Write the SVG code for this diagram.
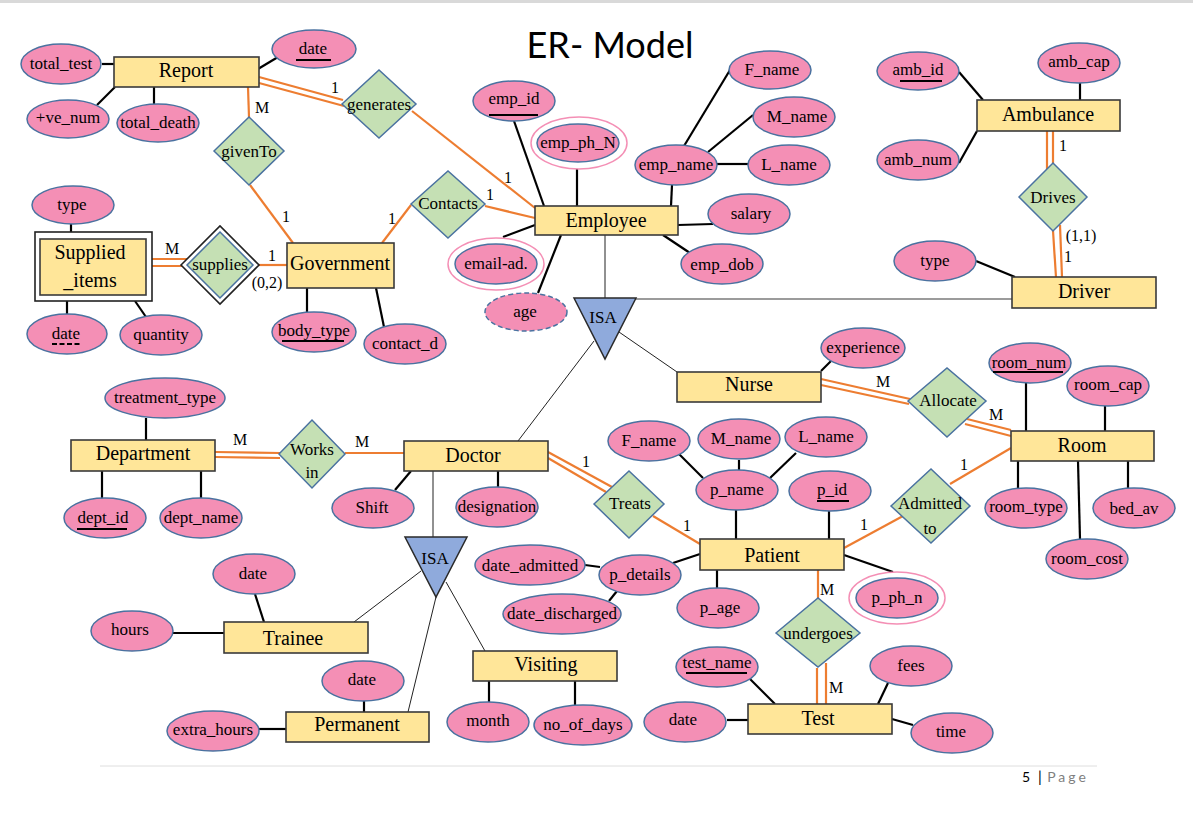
<svg xmlns="http://www.w3.org/2000/svg" width="1193" height="817" viewBox="0 0 1193 817">
<style>
.bg{fill:#fff}
.ent rect{fill:#FFE699;stroke:#3a3a3a;stroke-width:1.6}
.ent rect.outer{fill:#fff;stroke:#222;stroke-width:1.6}
.attr ellipse{fill:#F48FB5;stroke:#4A72A0;stroke-width:1.5}
.attr ellipse.ring{fill:#fff;stroke:#F48FB5;stroke-width:1.5}
.attr ellipse.dash{stroke-dasharray:5 3}
.rel polygon{fill:#C5E0B4;stroke:#4A72A0;stroke-width:1.5}
.rel polygon.outer{fill:#fff;stroke:#222;stroke-width:1.6}
.isa polygon{fill:#8FAADC;stroke:#2a2a2a;stroke-width:1.5}
text{font-family:"Liberation Serif","Times New Roman",serif;fill:#000;text-anchor:middle}
.t{font-size:17px}
.te{font-size:20px}
.c{font-size:16px}
.ul{stroke:#000;stroke-width:2}
.a line{stroke:#000;stroke-width:2.2}
.o line{stroke:#ED7D31;stroke-width:2.2}
.th line{stroke:#222;stroke-width:1}
</style>
<rect class="bg" x="0" y="0" width="1193" height="817"/>
<rect x="0" y="0" width="1193" height="3" fill="#d9d9d9"/>
<text x="610" y="58" style="font-family:Lato,'Open Sans',sans-serif;font-size:36px">ER- Model</text>

<g id="connectors">
 <g class="a">
  <line x1="102" y1="64" x2="114" y2="64"/>
  <line x1="97" y1="105" x2="115" y2="87"/>
  <line x1="154" y1="87" x2="154" y2="104"/>
  <line x1="258" y1="69" x2="278" y2="57"/>
  <line x1="71" y1="224" x2="71" y2="232"/>
  <line x1="67" y1="301" x2="67" y2="314"/>
  <line x1="135" y1="301" x2="146" y2="317"/>
  <line x1="307" y1="288" x2="307" y2="312"/>
  <line x1="376" y1="288" x2="384" y2="327"/>
  <line x1="514" y1="121" x2="544" y2="206"/>
  <line x1="577" y1="169" x2="577" y2="206"/>
  <line x1="672" y1="185" x2="671" y2="206"/>
  <line x1="684" y1="146" x2="730" y2="70"/>
  <line x1="708" y1="152" x2="753" y2="115"/>
  <line x1="717" y1="164" x2="748" y2="164"/>
  <line x1="678" y1="225" x2="713" y2="224"/>
  <line x1="663" y1="235" x2="690" y2="253"/>
  <line x1="535" y1="225" x2="503" y2="237"/>
  <line x1="561" y1="235" x2="538" y2="293"/>
  <line x1="959" y1="72" x2="983" y2="100"/>
  <line x1="1080" y1="83" x2="1080" y2="100"/>
  <line x1="959" y1="163" x2="977" y2="131"/>
  <line x1="976" y1="261" x2="1015" y2="277"/>
  <line x1="821" y1="371" x2="831" y2="361"/>
  <line x1="1026" y1="383" x2="1026" y2="431"/>
  <line x1="1105" y1="406" x2="1105" y2="431"/>
  <line x1="1018" y1="461" x2="1018" y2="488"/>
  <line x1="1078" y1="461" x2="1080" y2="539"/>
  <line x1="1128" y1="461" x2="1128" y2="488"/>
  <line x1="146" y1="418" x2="146" y2="440"/>
  <line x1="102" y1="471" x2="102" y2="499"/>
  <line x1="201" y1="471" x2="201" y2="499"/>
  <line x1="411" y1="471" x2="395" y2="490"/>
  <line x1="498" y1="471" x2="498" y2="488"/>
  <line x1="736" y1="510" x2="736" y2="539"/>
  <line x1="678" y1="453" x2="703" y2="478"/>
  <line x1="739" y1="460" x2="739" y2="470"/>
  <line x1="770" y1="478" x2="796" y2="453"/>
  <line x1="829" y1="511" x2="829" y2="539"/>
  <line x1="700" y1="554" x2="673" y2="563"/>
  <line x1="585" y1="565" x2="600" y2="567"/>
  <line x1="609" y1="601" x2="617" y2="591"/>
  <line x1="717" y1="570" x2="717" y2="589"/>
  <line x1="844" y1="555" x2="893" y2="572"/>
  <line x1="749" y1="678" x2="775" y2="704"/>
  <line x1="727" y1="720" x2="748" y2="720"/>
  <line x1="878" y1="704" x2="888" y2="683"/>
  <line x1="892" y1="719" x2="913" y2="725"/>
  <line x1="255" y1="594" x2="264" y2="622"/>
  <line x1="173" y1="633" x2="224" y2="633"/>
  <line x1="364" y1="701" x2="364" y2="712"/>
  <line x1="259" y1="729" x2="286" y2="729"/>
  <line x1="489" y1="681" x2="489" y2="702"/>
  <line x1="575" y1="681" x2="575" y2="705"/>
 </g>
 <g class="o">
  <line x1="259" y1="77" x2="343" y2="100"/>
  <line x1="259" y1="83" x2="344" y2="106"/>
  <line x1="412" y1="111" x2="535" y2="208"/>
  <line x1="248" y1="87" x2="249" y2="117"/>
  <line x1="250" y1="185" x2="293" y2="243"/>
  <line x1="485" y1="206" x2="535" y2="218"/>
  <line x1="411" y1="205" x2="382" y2="243"/>
  <line x1="152" y1="259" x2="187" y2="259"/>
  <line x1="152" y1="266" x2="186" y2="266"/>
  <line x1="259" y1="265" x2="287" y2="265"/>
  <line x1="1047" y1="131" x2="1047" y2="169"/>
  <line x1="1053" y1="131" x2="1053" y2="163"/>
  <line x1="1053" y1="231" x2="1056" y2="277"/>
  <line x1="1060" y1="225" x2="1062" y2="277"/>
  <line x1="821" y1="379" x2="910" y2="399"/>
  <line x1="821" y1="385" x2="909" y2="404"/>
  <line x1="967" y1="419" x2="1011" y2="430"/>
  <line x1="965" y1="424" x2="1011" y2="436"/>
  <line x1="1011" y1="448" x2="950" y2="484"/>
  <line x1="844" y1="548" x2="903" y2="516"/>
  <line x1="215" y1="452" x2="280" y2="453"/>
  <line x1="215" y1="457" x2="280" y2="458"/>
  <line x1="345" y1="453" x2="404" y2="453"/>
  <line x1="548" y1="452" x2="612" y2="487"/>
  <line x1="548" y1="458" x2="606" y2="492"/>
  <line x1="653" y1="516" x2="700" y2="544"/>
  <line x1="818" y1="570" x2="818" y2="598"/>
  <line x1="817" y1="668" x2="817" y2="704"/>
  <line x1="826" y1="663" x2="826" y2="704"/>
 </g>
 <g class="th">
  <line x1="605" y1="235" x2="605" y2="298"/>
  <line x1="636" y1="299" x2="1012" y2="299" style="stroke:#7a7a7a;stroke-width:1.3"/>
  <line x1="619" y1="332" x2="677" y2="372"/>
  <line x1="594" y1="341" x2="518" y2="441"/>
  <line x1="433" y1="471" x2="433" y2="537"/>
  <line x1="421" y1="571" x2="354" y2="622"/>
  <line x1="436" y1="597" x2="408" y2="712"/>
  <line x1="446" y1="582" x2="485" y2="651"/>
 </g>
 <g id="cardinalities" class="c">
  <text x="335" y="93">1</text>
  <text x="508" y="183">1</text>
  <text x="262" y="113">M</text>
  <text x="286" y="222">1</text>
  <text x="490" y="200">1</text>
  <text x="392" y="224">1</text>
  <text x="172" y="254">M</text>
  <text x="272" y="261">1</text>
  <text x="267" y="288">(0,2)</text>
  <text x="1063" y="151">1</text>
  <text x="1081" y="241">(1,1)</text>
  <text x="1068" y="262">1</text>
  <text x="883" y="387">M</text>
  <text x="996" y="420">M</text>
  <text x="964" y="470">1</text>
  <text x="864" y="530">1</text>
  <text x="240" y="445">M</text>
  <text x="362" y="447">M</text>
  <text x="586" y="467">1</text>
  <text x="687" y="531">1</text>
  <text x="827" y="595">M</text>
  <text x="836" y="693">M</text>
 </g>
</g>

<!-- Entities -->
<g id="Report" class="ent"><rect x="114" y="57" width="145" height="30"/><text class="te" x="186" y="77">Report</text></g>
<g id="Employee" class="ent"><rect x="535" y="206" width="143" height="29"/><text class="te" x="606" y="227">Employee</text></g>
<g id="Government" class="ent"><rect x="287" y="243" width="107" height="45"/><text class="te" x="340" y="270">Government</text></g>
<g id="Supplied_items" class="ent"><rect class="outer" x="35" y="232" width="117" height="69"/><rect x="40" y="239" width="106" height="56"/><text class="te" x="90" y="259">Supplied</text><text class="te" x="90" y="287">_items</text></g>
<g id="Ambulance" class="ent"><rect x="977" y="100" width="143" height="31"/><text class="te" x="1048" y="121">Ambulance</text></g>
<g id="Driver" class="ent"><rect x="1012" y="277" width="144" height="31"/><text class="te" x="1084" y="298">Driver</text></g>
<g id="Nurse" class="ent"><rect x="677" y="372" width="144" height="30"/><text class="te" x="749" y="391">Nurse</text></g>
<g id="Room" class="ent"><rect x="1011" y="431" width="143" height="30"/><text class="te" x="1082" y="452">Room</text></g>
<g id="Department" class="ent"><rect x="71" y="440" width="144" height="31"/><text class="te" x="143" y="460">Department</text></g>
<g id="Doctor" class="ent"><rect x="404" y="441" width="144" height="30"/><text class="te" x="473" y="462">Doctor</text></g>
<g id="Patient" class="ent"><rect x="700" y="539" width="144" height="31"/><text class="te" x="772" y="562">Patient</text></g>
<g id="Trainee" class="ent"><rect x="224" y="622" width="144" height="31"/><text class="te" x="293" y="645">Trainee</text></g>
<g id="Permanent" class="ent"><rect x="286" y="712" width="143" height="30"/><text class="te" x="357" y="731">Permanent</text></g>
<g id="Visiting" class="ent"><rect x="473" y="651" width="144" height="30"/><text class="te" x="546" y="671">Visiting</text></g>
<g id="Test" class="ent"><rect x="748" y="704" width="144" height="30"/><text class="te" x="818" y="725">Test</text></g>

<!-- Relationships -->
<g id="generates" class="rel"><polygon points="342,104 379,70 416,104 379,138"/><text class="t" x="379" y="110">generates</text></g>
<g id="givenTo" class="rel"><polygon points="214,151 249,117 284,151 249,185"/><text class="t" x="249" y="157">givenTo</text></g>
<g id="Contacts" class="rel"><polygon points="411,204 448,171 485,204 448,238"/><text class="t" x="448" y="209">Contacts</text></g>
<g id="supplies" class="rel"><polygon class="outer" points="181,265 220,226 259,265 220,304"/><polygon points="187,265 220,232 253,265 220,298"/><text class="t" x="220" y="270">supplies</text></g>
<g id="Drives" class="rel"><polygon points="1019,197 1053,163 1087,197 1053,231"/><text class="t" x="1053" y="203">Drives</text></g>
<g id="Allocate" class="rel"><polygon points="908,401 947,368 986,401 947,437"/><text class="t" x="948" y="406">Allocate</text></g>
<g id="Works_in" class="rel"><polygon points="279,454 312,420 345,454 312,488"/><text class="t" x="312" y="455">Works</text><text class="t" x="312" y="478">in</text></g>
<g id="Treats" class="rel"><polygon points="594,504 629,471 664,504 629,538"/><text class="t" x="630" y="509">Treats</text></g>
<g id="Admitted_to" class="rel"><polygon points="891,506 931,469 970,506 931,543"/><text class="t" x="930" y="509">Admitted</text><text class="t" x="930" y="534">to</text></g>
<g id="undergoes" class="rel"><polygon points="776,633 818,598 860,633 818,667"/><text class="t" x="818" y="639">undergoes</text></g>

<!-- ISA -->
<g id="ISA1" class="isa"><polygon points="574,298 636,298 605,359"/><text class="t" x="603" y="323">ISA</text></g>
<g id="ISA2" class="isa"><polygon points="405,537 467,537 436,597"/><text class="t" x="435" y="564">ISA</text></g>

<!-- Attributes -->
<g id="a_total_test" class="attr"><ellipse cx="61" cy="64" rx="40" ry="20"/><text class="t" x="61" y="69">total_test</text></g>
<g id="a_ve_num" class="attr"><ellipse cx="68" cy="119" rx="41" ry="19"/><text class="t" x="68" y="123">+ve_num</text></g>
<g id="a_total_death" class="attr"><ellipse cx="158" cy="123" rx="41" ry="19"/><text class="t" x="158" y="128">total_death</text></g>
<g id="a_report_date" class="attr"><ellipse cx="314" cy="49" rx="42" ry="19"/><text class="t" x="313" y="54">date</text><line class="ul" x1="296" y1="60" x2="331" y2="60"/></g>
<g id="a_sup_type" class="attr"><ellipse cx="73" cy="205" rx="41" ry="19"/><text class="t" x="72" y="210">type</text></g>
<g id="a_sup_date" class="attr"><ellipse cx="67" cy="334" rx="40" ry="20"/><text class="t" x="66" y="339">date</text><line class="ul" x1="52" y1="344" x2="81" y2="344" stroke-dasharray="5 2.5"/></g>
<g id="a_quantity" class="attr"><ellipse cx="161" cy="335" rx="41" ry="20"/><text class="t" x="161" y="340">quantity</text></g>
<g id="a_body_type" class="attr"><ellipse cx="314" cy="332" rx="42" ry="20"/><text class="t" x="314" y="336">body_type</text><line class="ul" x1="282" y1="341" x2="344" y2="341"/></g>
<g id="a_contact_d" class="attr"><ellipse cx="405" cy="344" rx="41" ry="20"/><text class="t" x="405" y="349">contact_d</text></g>
<g id="a_emp_id" class="attr"><ellipse cx="514" cy="101" rx="41" ry="20"/><text class="t" x="514" y="104">emp_id</text><line class="ul" x1="489" y1="115" x2="538" y2="115"/></g>
<g id="a_emp_ph_N" class="attr"><ellipse class="ring" cx="579" cy="143" rx="48" ry="26"/><ellipse cx="578" cy="143" rx="41" ry="19"/><text class="t" x="578" y="148">emp_ph_N</text></g>
<g id="a_emp_name" class="attr"><ellipse cx="676" cy="165" rx="41" ry="20"/><text class="t" x="676" y="170">emp_name</text></g>
<g id="a_emp_F_name" class="attr"><ellipse cx="770" cy="70" rx="41" ry="19"/><text class="t" x="772" y="75">F_name</text></g>
<g id="a_emp_M_name" class="attr"><ellipse cx="794" cy="117" rx="41" ry="20"/><text class="t" x="797" y="122">M_name</text></g>
<g id="a_emp_L_name" class="attr"><ellipse cx="789" cy="165" rx="41" ry="20"/><text class="t" x="789" y="170">L_name</text></g>
<g id="a_salary" class="attr"><ellipse cx="749" cy="214" rx="41" ry="20"/><text class="t" x="751" y="219">salary</text></g>
<g id="a_emp_dob" class="attr"><ellipse cx="722" cy="264" rx="41" ry="20"/><text class="t" x="722" y="270">emp_dob</text></g>
<g id="a_email" class="attr"><ellipse class="ring" cx="496" cy="264" rx="48" ry="26"/><ellipse cx="496" cy="264" rx="41" ry="20"/><text class="t" x="496" y="269">email-ad.</text></g>
<g id="a_age" class="attr"><ellipse class="dash" cx="526" cy="312" rx="41" ry="19"/><text class="t" x="525" y="317">age</text></g>
<g id="a_amb_id" class="attr"><ellipse cx="918" cy="71" rx="41" ry="19"/><text class="t" x="918" y="75">amb_id</text><line class="ul" x1="900" y1="81" x2="942" y2="81"/></g>
<g id="a_amb_cap" class="attr"><ellipse cx="1079" cy="63" rx="41" ry="20"/><text class="t" x="1079" y="67">amb_cap</text></g>
<g id="a_amb_num" class="attr"><ellipse cx="918" cy="160" rx="41" ry="20"/><text class="t" x="918" y="165">amb_num</text></g>
<g id="a_drv_type" class="attr"><ellipse cx="935" cy="261" rx="41" ry="20"/><text class="t" x="935" y="266">type</text></g>
<g id="a_experience" class="attr"><ellipse cx="863" cy="348" rx="42" ry="20"/><text class="t" x="863" y="353">experience</text></g>
<g id="a_room_num" class="attr"><ellipse cx="1030" cy="363" rx="41" ry="20"/><text class="t" x="1029" y="368">room_num</text><line class="ul" x1="993" y1="372" x2="1063" y2="372"/></g>
<g id="a_room_cap" class="attr"><ellipse cx="1108" cy="386" rx="41" ry="20"/><text class="t" x="1108" y="390">room_cap</text></g>
<g id="a_room_type" class="attr"><ellipse cx="1026" cy="508" rx="41" ry="20"/><text class="t" x="1026" y="512">room_type</text></g>
<g id="a_bed_av" class="attr"><ellipse cx="1134" cy="508" rx="41" ry="20"/><text class="t" x="1134" y="514">bed_av</text></g>
<g id="a_room_cost" class="attr"><ellipse cx="1087" cy="559" rx="41" ry="20"/><text class="t" x="1087" y="564">room_cost</text></g>
<g id="a_treatment_type" class="attr"><ellipse cx="165" cy="398" rx="60" ry="20"/><text class="t" x="165" y="403">treatment_type</text></g>
<g id="a_dept_id" class="attr"><ellipse cx="105" cy="518" rx="41" ry="20"/><text class="t" x="103" y="523">dept_id</text><line class="ul" x1="77" y1="529" x2="127" y2="529"/></g>
<g id="a_dept_name" class="attr"><ellipse cx="201" cy="518" rx="41" ry="20"/><text class="t" x="201" y="523">dept_name</text></g>
<g id="a_shift" class="attr"><ellipse cx="373" cy="508" rx="41" ry="20"/><text class="t" x="372" y="513">Shift</text></g>
<g id="a_designation" class="attr"><ellipse cx="497" cy="507" rx="41" ry="20"/><text class="t" x="497" y="512">designation</text></g>
<g id="a_p_F_name" class="attr"><ellipse cx="649" cy="441" rx="41" ry="20"/><text class="t" x="649" y="446">F_name</text></g>
<g id="a_p_M_name" class="attr"><ellipse cx="739" cy="439" rx="41" ry="20"/><text class="t" x="741" y="444">M_name</text></g>
<g id="a_p_L_name" class="attr"><ellipse cx="826" cy="437" rx="41" ry="20"/><text class="t" x="826" y="442">L_name</text></g>
<g id="a_p_name" class="attr"><ellipse cx="737" cy="490" rx="41" ry="20"/><text class="t" x="737" y="495">p_name</text></g>
<g id="a_p_id" class="attr"><ellipse cx="830" cy="491" rx="41" ry="20"/><text class="t" x="832" y="495">p_id</text><line class="ul" x1="817" y1="501" x2="849" y2="501"/></g>
<g id="a_p_details" class="attr"><ellipse cx="640" cy="575" rx="41" ry="20"/><text class="t" x="640" y="580">p_details</text></g>
<g id="a_date_admitted" class="attr"><ellipse cx="530" cy="565" rx="55" ry="20"/><text class="t" x="530" y="571">date_admitted</text></g>
<g id="a_date_discharged" class="attr"><ellipse cx="562" cy="614" rx="59" ry="20"/><text class="t" x="562" y="619">date_discharged</text></g>
<g id="a_p_age" class="attr"><ellipse cx="718" cy="608" rx="41" ry="20"/><text class="t" x="720" y="613">p_age</text></g>
<g id="a_p_ph_n" class="attr"><ellipse class="ring" cx="897" cy="598" rx="48" ry="26"/><ellipse cx="897" cy="598" rx="41" ry="20"/><text class="t" x="897" y="603">p_ph_n</text></g>
<g id="a_test_name" class="attr"><ellipse cx="717" cy="667" rx="41" ry="20"/><text class="t" x="717" y="668">test_name</text><line class="ul" x1="686" y1="673" x2="747" y2="673"/></g>
<g id="a_test_date" class="attr"><ellipse cx="685" cy="722" rx="41" ry="20"/><text class="t" x="683" y="725">date</text></g>
<g id="a_fees" class="attr"><ellipse cx="911" cy="666" rx="41" ry="20"/><text class="t" x="911" y="671">fees</text></g>
<g id="a_time" class="attr"><ellipse cx="952" cy="733" rx="41" ry="20"/><text class="t" x="951" y="737">time</text></g>
<g id="a_trainee_date" class="attr"><ellipse cx="254" cy="574" rx="41" ry="20"/><text class="t" x="253" y="579">date</text></g>
<g id="a_hours" class="attr"><ellipse cx="132" cy="631" rx="41" ry="20"/><text class="t" x="130" y="635">hours</text></g>
<g id="a_extra_hours" class="attr"><ellipse cx="213" cy="731" rx="46" ry="20"/><text class="t" x="213" y="735">extra_hours</text></g>
<g id="a_perm_date" class="attr"><ellipse cx="363" cy="681" rx="41" ry="20"/><text class="t" x="362" y="685">date</text></g>
<g id="a_month" class="attr"><ellipse cx="488" cy="722" rx="41" ry="20"/><text class="t" x="488" y="726">month</text></g>
<g id="a_no_of_days" class="attr"><ellipse cx="583" cy="725" rx="49" ry="20"/><text class="t" x="583" y="730">no_of_days</text></g>

<!-- footer -->
<line x1="100" y1="766" x2="1097" y2="766" stroke="#dedede" stroke-width="1"/>
<text x="1026" y="782" style="font-family:Lato,'Open Sans',sans-serif;font-size:14px">5</text>
<text x="1040" y="782" style="font-family:Lato,'Open Sans',sans-serif;font-size:15px">|</text>
<text x="1068" y="782" style="font-family:Lato,'Open Sans',sans-serif;font-size:14px;fill:#7f7f7f;letter-spacing:3px">Page</text>
</svg>
